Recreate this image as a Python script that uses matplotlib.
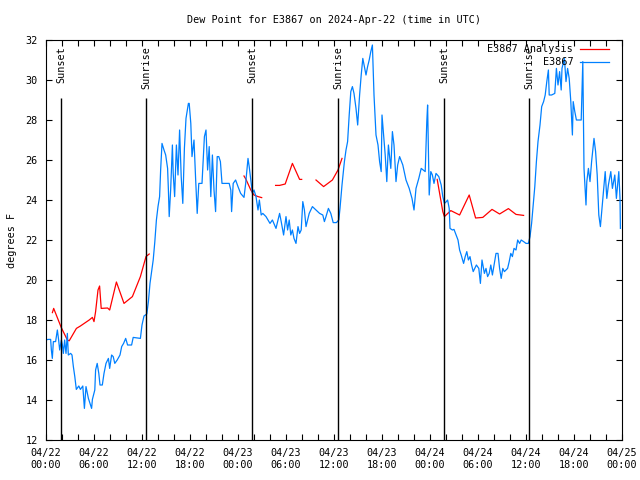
#!/usr/bin/env python
"""
Dew point for E3867, 2024-Apr-22 (time in UTC)
"""
import datetime as dt
import numpy as np
import matplotlib
matplotlib.use('Agg')
import matplotlib.pyplot as plt

start = dt.datetime(2024, 4, 22, 0, 0)

# Station obs: hours since start, dew point (F)
obs_hours = [0.0, 0.25, 0.58, 0.67, 0.79, 0.92, 1.2, 1.42, 1.58, 1.71, 1.92, 2.05,
             2.17, 2.33, 2.5, 2.67, 2.79, 3.08, 3.25, 3.42, 3.6, 3.79, 4.1, 4.3,
             4.6, 4.8, 5.0, 5.3, 5.5, 5.7, 5.8, 6.1, 6.2, 6.4, 6.6, 6.75, 7.04,
             7.25, 7.5, 7.8, 7.96, 8.2, 8.4, 8.6, 8.9, 9.25, 9.46, 9.7, 9.96,
             10.2, 10.7, 10.9, 11.8, 12.0, 12.25, 12.6, 12.8, 13.0, 13.4, 13.6,
             13.8, 14.0, 14.2, 14.33, 14.5, 14.75, 14.96, 15.2, 15.3, 15.4, 15.58,
             15.8, 15.9, 16.08, 16.3, 16.5, 16.7, 16.9, 17.1, 17.3, 17.5, 17.8,
             17.9, 18.1, 18.25, 18.5, 18.7, 18.9, 19.1, 19.5, 19.8, 20.0, 20.2,
             20.4, 20.6, 20.8, 21.0, 21.2, 21.4, 21.6, 21.8, 22.0, 22.9, 23.1,
             23.2, 23.4, 23.7, 24.0, 24.33, 24.75, 24.96, 25.25, 25.4, 25.6, 25.8,
             26.0, 26.25, 26.5, 26.67, 26.9, 27.1, 27.5, 28.0, 28.3, 28.75, 29.2,
             29.4, 29.7, 30.0, 30.2, 30.4, 30.6, 30.8, 31.0, 31.25, 31.5, 31.7,
             31.9, 32.1, 32.3, 32.5, 32.9, 33.3, 33.75, 34.2, 34.6, 34.8, 35.0,
             35.3, 35.6, 35.9, 36.3, 36.6, 36.75, 37.0, 37.3, 37.5, 37.7, 37.9,
             38.1, 38.3, 38.5, 38.75, 38.96, 39.2, 39.4, 39.6, 39.8, 40.0, 40.2,
             40.4, 40.6, 40.8, 41.0, 41.25, 41.5, 41.7, 41.9, 42.0, 42.2, 42.4,
             42.6, 42.8, 43.1, 43.3, 43.5, 43.75, 43.96, 44.2, 44.6, 45.0, 45.4,
             45.75, 46.0, 46.25, 46.6, 46.9, 47.4, 47.6, 47.7, 47.9, 48.1, 48.3,
             48.5, 48.75, 49.1, 49.4, 49.6, 49.8, 50.0, 50.2, 50.4, 50.5, 50.8,
             51.0, 51.5, 51.7, 51.9, 52.2, 52.4, 52.6, 52.8, 53.0, 53.2, 53.4,
             53.6, 53.8, 54.1, 54.3, 54.5, 54.8, 55.0, 55.2, 55.4, 55.6, 55.8,
             56.25, 56.5, 56.7, 56.9, 57.1, 57.3, 57.7, 57.9, 58.1, 58.3, 58.5,
             58.75, 58.96, 59.2, 59.4, 59.7, 60.0, 60.3, 60.5, 60.7, 60.9, 61.1,
             61.3, 61.5, 61.75, 61.96, 62.2, 62.4, 62.6, 62.8, 62.9, 63.2, 63.6,
             63.8, 64.0, 64.2, 64.4, 64.5, 64.8, 65.0, 65.2, 65.4, 65.6, 65.8,
             65.9, 66.1, 66.3, 66.9, 67.1, 67.25, 67.5, 67.6, 67.8, 68.0, 68.2,
             68.5, 68.7, 68.9, 69.1, 69.3, 69.5, 69.7, 69.9, 70.1, 70.3, 70.6,
             70.8, 71.1, 71.3, 71.6, 71.75, 71.8]
obs_dewpt = [17.0, 17.03, 17.03, 16.5, 16.08, 16.92, 16.92, 17.5, 17.0, 16.5, 17.0, 16.75,
             16.33, 17.0, 16.33, 17.33, 16.25, 16.33, 16.25, 15.67, 15.17, 14.53, 14.7, 14.53,
             14.7, 13.58, 14.67, 14.08, 13.83, 13.58, 14.03, 14.5, 15.5, 15.83, 15.33, 14.75, 14.75,
             15.33, 15.83, 16.08, 15.58, 16.25, 16.17, 15.83, 16.0, 16.25, 16.67, 16.83, 17.08,
             16.75, 16.75, 17.13, 17.08, 17.75, 18.2, 18.3, 18.92, 19.83, 21.0, 21.9,
             23.0, 23.67, 24.17, 25.5, 26.83, 26.5, 26.25, 25.58, 24.5, 23.17, 24.5,
             26.75, 25.33, 24.17, 26.75, 25.25, 27.5, 25.17, 23.83, 26.58, 28.08, 28.83,
             28.83, 27.83, 26.17, 27.0, 25.08, 23.33, 24.83, 24.83, 27.17, 27.5, 25.5,
             26.67, 24.17, 26.25, 24.5, 23.42, 26.17, 26.17, 25.92, 24.83, 24.83, 24.5,
             23.42, 24.83, 25.0, 24.67, 24.33, 24.13, 24.83, 26.08, 25.67, 25.0, 24.33,
             24.5, 24.17, 23.5, 24.0, 23.25, 23.33, 23.17, 22.83, 23.0, 22.58, 23.33,
             22.92, 22.25, 23.17, 22.5, 23.0, 22.25, 22.5, 22.08, 21.83, 22.67, 22.33,
             22.5, 23.92, 23.5, 22.67, 23.33, 23.67, 23.5, 23.33, 23.25, 22.92, 23.17,
             23.58, 23.33, 22.87, 22.87, 23.0, 23.58, 24.75, 25.92, 26.5, 26.92, 28.25,
             29.42, 29.67, 29.33, 28.58, 27.75, 29.25, 30.25, 31.08, 30.67, 30.25, 30.67,
             31.0, 31.42, 31.75, 29.25, 27.25, 26.75, 25.92, 25.42, 28.25, 27.25, 26.25,
             24.92, 26.75, 25.58, 27.42, 26.75, 24.92, 25.75, 26.17, 25.75, 25.0, 24.58,
             24.08, 23.5, 24.58, 25.08, 25.58, 25.42, 27.92, 28.75, 24.25, 25.42, 25.25,
             24.83, 25.33, 25.17, 24.75, 24.17, 23.83, 23.9, 24.0, 23.58, 22.58, 22.5,
             22.53, 22.0, 21.5, 21.25, 20.83, 21.17, 21.42, 21.0, 21.17, 20.75, 20.42,
             20.58, 20.75, 20.58, 19.83, 21.0, 20.33, 20.58, 20.17, 20.33, 20.75, 20.25,
             21.33, 21.33, 20.58, 20.08, 20.58, 20.42, 20.58, 20.92, 21.33, 21.17, 21.58,
             21.5, 22.0, 21.83, 22.0, 21.92, 21.83, 21.83, 22.17, 22.83, 23.75, 24.67,
             25.92, 26.92, 27.75, 28.67, 28.92, 29.25, 29.92, 30.5, 29.25, 29.25, 29.33,
             30.58, 29.75, 30.42, 29.5, 30.58, 31.08, 29.92, 30.58, 30.08, 28.92, 27.25,
             28.92, 28.42, 28.0, 28.0, 30.92, 25.58, 23.75, 24.92, 25.58, 24.92, 25.92,
             27.08, 26.42, 25.25, 23.25, 22.67, 23.58, 24.5, 25.42, 24.08, 24.75, 25.42,
             24.58, 25.25, 24.08, 25.42, 24.08, 22.58]

# Analysis: NaN marks a gap in the series
ana_hours = [0.8, 0.96, 1.9, 2.67, 2.9, 3.8, 4.3, 5.4, 5.8, 6.0, 6.2, 6.5, 6.7, 6.9,
             7.7, 7.96, 8.8, 9.75, 10.8, 11.8, 12.5, 12.9, 13.0,
             24.75, 25.0, 25.6, 26.0, 26.5, 26.96, 27.0,
             28.7, 29.2, 29.9, 30.8, 31.7, 31.96, 32.0,
             33.75, 34.7, 35.8, 36.5, 37.0, 37.1,
             48.9, 49.6, 49.8, 50.6, 51.7, 52.9, 53.7, 54.6, 55.75, 56.7, 57.8,
             58.75, 59.7]
ana_dewpt = [18.37, 18.58, 17.63, 17.0, 16.96, 17.58, 17.7, 18.0, 18.13, 17.92, 18.42,
             19.5, 19.7, 18.58, 18.6, 18.5, 19.9, 18.83, 19.17, 20.17, 21.17, 21.3, np.nan,
             25.2, 25.03, 24.5, 24.25, 24.17, 24.12, np.nan,
             24.73, 24.73, 24.8, 25.83, 25.03, 25.03, np.nan,
             25.0, 24.67, 25.0, 25.5, 26.08, np.nan,
             25.03, 23.42, 23.17, 23.47, 23.25, 24.25, 23.1, 23.13, 23.53, 23.3, 23.57,
             23.28, 23.23]

sun_hours = [1.92, 12.54, 25.8, 36.5, 49.8, 60.4]
sun_labels = ['Sunset', 'Sunrise', 'Sunset', 'Sunrise', 'Sunset', 'Sunrise']

fs = 7.3
plt.rcParams['font.family'] = 'DejaVu Sans Mono'
plt.rcParams['font.size'] = fs

fig = plt.figure(figsize=(6.4, 4.8), dpi=100)
ax = fig.add_axes([46 / 640, 40 / 480, 576 / 640, 400 / 480])

ax.plot(ana_hours, ana_dewpt, color='#ff0000', lw=0.9, label='E3867 Analysis')
ax.plot(obs_hours, obs_dewpt, color='#0080ff', lw=0.9, label='E3867')

for h, lab in zip(sun_hours, sun_labels):
    ax.vlines(h, 12, 29.1, color='black', lw=1.0)
    ax.text(h, 31.7, lab, rotation=90, ha='center', va='top', fontsize=fs)

ax.set_xlim(0, 72)
ax.set_ylim(12, 32)
ax.set_yticks(np.arange(12, 33, 2))
major = np.arange(0, 73, 6)
ax.set_xticks(major)
ax.set_xticks(np.arange(0, 73, 2), minor=True)
ax.set_xticklabels([(start + dt.timedelta(hours=int(h))).strftime('%m/%d\n%H:%M')
                    for h in major])
ax.tick_params(which='both', direction='in', top=True, right=True,
               length=4, width=0.8, labelsize=fs)
ax.tick_params(axis='x', pad=6)
ax.tick_params(axis='y', pad=6)

ax.set_ylabel('degrees F', fontsize=fs, labelpad=6)
ax.set_title('Dew Point for E3867 on 2024-Apr-22 (time in UTC)', fontsize=fs, pad=12)

ax.legend(loc='upper right', bbox_to_anchor=(0.984, 1.0), frameon=False,
          markerfirst=False, fontsize=fs, handlelength=2.8, labelspacing=0.3,
          borderaxespad=0.0, handletextpad=0.7)

fig.savefig('out.png', dpi=100)
